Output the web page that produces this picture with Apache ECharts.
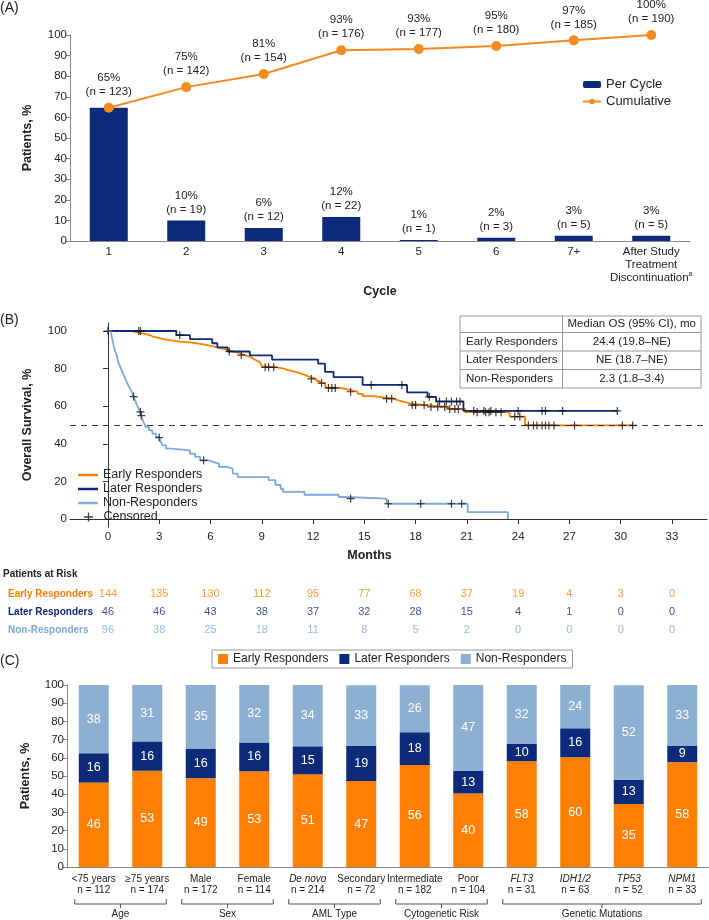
<!DOCTYPE html>
<html>
<head>
<meta charset="UTF-8">
<title>Response timing, survival and subgroups</title>
<style>
  html, body { margin: 0; padding: 0; background: #fff; }
  #chart { width: 709px; height: 920px; }
</style>
<script src="https://cdn.jsdelivr.net/npm/echarts@6/dist/echarts.min.js"></script>
</head>
<body>
<div id="chart"></div>
<script>
// ---------- (A) first response by cycle ----------
var cycles = ['1', '2', '3', '4', '5', '6', '7+', 'After Study Treatment Discontinuation'];
var perCycle = [64.7, 10.0, 6.3, 11.6, 0.5, 1.6, 2.6, 2.6];
var perCyclePct = [65, 10, 6, 12, 1, 2, 3, 3];
var perCycleN = [123, 19, 12, 22, 1, 3, 5, 5];
var cumulative = [64.7, 74.7, 81.1, 92.6, 93.2, 94.7, 97.4, 100];
var cumulativePct = [65, 75, 81, 93, 93, 95, 97, 100];
var cumulativeN = [123, 142, 154, 176, 177, 180, 185, 190];

// ---------- (B) overall survival, [month, %] at each step ----------
var earlyKM = [[0,100],[1.4,99.3],[1.7,98.6],[2.1,97.9],[2.4,97.2],[2.6,96.5],[2.9,95.8],[3.2,95.1],[3.6,94.4],
  [4.2,93.8],[4.9,93.1],[5.4,92.4],[5.9,91.7],[6.2,91.0],[6.5,90.3],[6.9,89.6],[7.2,88.9],[7.4,88.2],[7.7,87.2],
  [8.0,86.3],[8.3,85.3],[8.5,84.3],[8.7,83.3],[8.9,82.3],[9.0,81.3],[9.1,80.7],[9.9,80.0],[10.3,79.0],[10.6,78.2],
  [11.0,77.3],[11.3,76.4],[11.6,75.5],[11.8,74.5],[12.2,73.4],[12.4,72.3],[12.7,71.0],[12.8,69.7],[13.6,68.7],
  [14.1,67.7],[14.6,66.6],[14.9,65.4],[15.5,64.7],[16.1,64.0],[16.7,63.1],[17.0,62.2],[17.4,61.4],[17.7,60.6],
  [18.6,59.6],[19.9,58.5],[20.9,56.8],[23.5,54.5],[24.4,49.8],[30.7,49.8]];
var laterKM = [[0,100],[4.0,97.8],[4.8,95.7],[6.1,93.5],[6.4,91.3],[7.0,89.1],[8.3,87.0],[9.6,84.8],[12.3,82.6],
  [12.7,78.3],[13.2,75.5],[14.9,71.3],[17.5,67.4],[18.7,65.0],[19.2,62.5],[20.8,57.5],[29.8,57.5]];
var nonKM = [[0,100],[0.2,97.9],[0.25,95.8],[0.3,93.8],[0.35,91.7],[0.4,89.6],[0.5,87.5],[0.55,85.4],[0.6,83.3],
  [0.7,81.3],[0.8,79.2],[0.9,77.1],[1.0,75.0],[1.1,72.9],[1.2,70.8],[1.3,69.3],[1.4,67.2],[1.5,65.1],[1.6,62.9],
  [1.7,60.6],[1.8,58.4],[1.9,56.2],[2.0,53.4],[2.1,51.1],[2.2,48.9],[2.4,47.2],[2.6,45.4],[2.8,43.7],[3.0,42.7],
  [3.1,40.8],[3.2,39.2],[3.4,37.4],[3.7,36.5],[4.8,34.7],[5.1,33.0],[5.4,31.2],[5.9,30.3],[6.2,29.4],[6.5,27.8],
  [6.9,26.8],[7.3,24.1],[7.6,22.3],[9.4,20.7],[9.8,18.1],[10.1,16.1],[10.25,14.4],[11.5,12.9],[13.5,11.7],
  [13.9,10.8],[16.3,8.1],[21.05,3.7],[23.4,0]];
var earlyCens = [[1.8,100],[1.9,100],[7.8,87.2],[9.2,80.7],[9.4,80.7],[9.7,80.7],[11.9,74.5],[12.5,72.3],[12.9,69.7],
  [13.1,69.7],[13.3,69.7],[14.2,67.7],[16.3,64.0],[16.6,64.0],[17.8,60.6],[18.0,60.6],[18.5,60.6],[18.9,59.6],
  [19.3,59.6],[19.7,59.6],[20.0,58.5],[20.3,58.5],[20.5,58.5],[21.6,56.8],[22.1,56.8],[22.3,56.8],[22.7,56.8],
  [23.0,56.8],[23.8,54.5],[24.1,54.5],[24.6,49.8],[24.9,49.8],[25.1,49.8],[25.4,49.8],[25.6,49.8],[25.8,49.8],
  [26.1,49.8],[27.3,49.8],[30.1,49.8],[30.7,49.8]];
var laterCens = [[4.2,97.8],[7.1,89.1],[15.4,71.3],[17.2,71.3],[18.8,65.0],[19.4,62.5],[19.8,62.5],[20.1,62.5],
  [20.4,62.5],[20.6,62.5],[21.4,57.5],[22.0,57.5],[22.4,57.5],[24.0,57.5],[25.4,57.5],[25.6,57.5],[26.6,57.5],[29.8,57.5]];
var nonCens = [[0,100],[1.5,65.1],[1.9,57.0],[1.95,55.0],[3.0,43.3],[5.6,31.2],[14.2,10.8],[16.4,8.1],[18.3,8.1],
  [20.1,8.1],[20.7,8.1]];
var monthTicks = [0, 3, 6, 9, 12, 15, 18, 21, 24, 27, 30, 33];
var riskRows = ['Early Responders', 'Later Responders', 'Non-Responders'];
var riskEarly = [144, 135, 130, 112, 95, 77, 68, 37, 19, 4, 3, 0];
var riskLater = [46, 46, 43, 38, 37, 32, 28, 15, 4, 1, 0, 0];
var riskNon = [96, 38, 25, 18, 11, 8, 5, 2, 0, 0, 0, 0];
var medianOS = ['24.4 (19.8–NE)', 'NE (18.7–NE)', '2.3 (1.8–3.4)'];

// ---------- (C) response by subgroup ----------
var subgroups = ['<75 years', '≥75 years', 'Male', 'Female', 'De novo', 'Secondary', 'Intermediate', 'Poor',
  'FLT3', 'IDH1/2', 'TP53', 'NPM1'];
var subgroupN = [112, 174, 172, 114, 214, 72, 182, 104, 31, 63, 52, 33];
var subEarly = [46.4, 52.9, 48.8, 52.6, 50.9, 47.2, 56.0, 40.4, 58.1, 60.3, 34.6, 57.6];
var subLater = [16.1, 16.1, 16.3, 15.8, 15.4, 19.4, 18.1, 12.5, 9.7, 15.9, 13.4, 9.1];
var subNon = [37.5, 31.0, 34.9, 31.6, 33.7, 33.3, 25.8, 47.1, 32.3, 23.8, 51.9, 33.3];
var groups = [
  { label: 'Age', first: 0, last: 1 },
  { label: 'Sex', first: 2, last: 3 },
  { label: 'AML Type', first: 4, last: 5 },
  { label: 'Cytogenetic Risk', first: 6, last: 7 },
  { label: 'Genetic Mutations', first: 8, last: 11 }
];
var italicNames = ['De novo', 'FLT3', 'IDH1/2', 'TP53', 'NPM1'];

var FONT = '"Liberation Sans", Arial, sans-serif';
var TXT = '#222';
var NAVY = '#0B2A7A';
var ORANGE = '#FF7F00';
var LIGHT = '#7BAADB';
var CLIGHT = '#8CAFD2';
var PLUS = 'path://M-1,-0.15L1,-0.15L1,0.15L-1,0.15Z M-0.15,-1L0.15,-1L0.15,1L-0.15,1Z';

var chart = echarts.init(document.getElementById('chart'), null, { renderer: 'canvas' });

function riskSeries(counts, row, color) {
  return {
    type: 'scatter', xAxisIndex: 2, yAxisIndex: 2, silent: true,
    symbolSize: 1, itemStyle: { color: 'transparent' },
    data: monthTicks.map(function (m, i) { return [m, row, counts[i]]; }),
    label: { show: true, position: 'inside', color: color, fontSize: 11, fontFamily: FONT,
      formatter: function (p) { return p.value[2]; } }
  };
}

function cLabel() {
  return { show: true, position: 'inside', color: '#fff', fontSize: 12.5, fontFamily: FONT,
    formatter: function (p) { return Math.round(p.value); } };
}

var allCens = earlyCens.concat(laterCens, nonCens);
var panelTitle = { fontSize: 14, fontWeight: 'normal', color: TXT, fontFamily: FONT };

var option = {
  animation: false,
  textStyle: { fontFamily: FONT, color: TXT },
  title: [
    { text: '(A)', left: 0, top: 1, padding: 0, textStyle: panelTitle },
    { text: '(B)', left: 0, top: 313, padding: 0, textStyle: panelTitle },
    { text: '(C)', left: 0, top: 654, padding: 0, textStyle: panelTitle },
    { text: 'Patients at Risk', left: 3, top: 569, padding: 0, textStyle: { fontSize: 10, fontWeight: 'bold', color: TXT, fontFamily: FONT } }
  ],
  legend: [
    { data: ['Per Cycle', 'Cumulative'], orient: 'vertical', left: 582, top: 78, padding: 0, itemWidth: 18, itemHeight: 7,
      itemGap: 4, textStyle: { fontSize: 13, color: TXT, fontFamily: FONT } },
    { data: ['Early Responders', 'Later Responders', 'Non-Responders'], orient: 'vertical',
      left: 78, top: 468.5, itemWidth: 20, itemHeight: 2.5, itemGap: 1, padding: 0, icon: 'rect',
      textStyle: { fontSize: 12.5, color: TXT, fontFamily: FONT } },
    { data: ['Censored'], left: 84, top: 510.5, itemWidth: 20, itemHeight: 9, padding: 0,
      textStyle: { fontSize: 12.5, color: TXT, fontFamily: FONT } },
    { data: ['Early Responders (C)', 'Later Responders (C)', 'Non-Responders (C)'], left: 212, top: 650,
      itemWidth: 10, itemHeight: 10, itemGap: 11, padding: [3, 6], borderColor: '#999', borderWidth: 1,
      icon: 'rect', formatter: function (n) { return n.replace(' (C)', ''); },
      textStyle: { fontSize: 12, color: TXT, fontFamily: FONT } }
  ],
  grid: [
    { left: 70, right: 19, top: 35, height: 206 },
    { left: 70, right: 2, top: 323, height: 204 },
    { left: 70, right: 2, top: 585, height: 54 },
    { left: 67, right: 0, top: 685, height: 182 }
  ],
  xAxis: [
    { type: 'category', gridIndex: 0, data: cycles,
      axisLine: { lineStyle: { color: '#888' } }, axisTick: { show: false },
      axisLabel: { color: TXT, fontSize: 11.5, margin: 4, lineHeight: 13, interval: 0,
        formatter: function (v) { return v.indexOf('After') === 0 ? 'After Study\nTreatment\nDiscontinuation{sup|a}' : v; },
        rich: { sup: { fontSize: 7, verticalAlign: 'top', padding: [0, 0, 6, 0], color: TXT } } },
      name: 'Cycle', nameLocation: 'middle', nameGap: 29,
      nameTextStyle: { fontWeight: 'bold', fontSize: 12.5, color: TXT } },
    { type: 'value', gridIndex: 1, min: -2.22, max: 35.05,
      axisLine: { lineStyle: { color: '#333' } }, splitLine: { show: false },
      axisTick: { length: 5, customValues: monthTicks, lineStyle: { color: '#333' } },
      axisLabel: { customValues: monthTicks, color: TXT, fontSize: 11.5, margin: 4 },
      name: 'Months', nameLocation: 'middle', nameGap: 22,
      nameTextStyle: { fontWeight: 'bold', fontSize: 12.5, color: TXT, padding: [0, 38, 0, 0] } },
    { type: 'value', gridIndex: 2, min: -2.22, max: 35.05, show: false },
    { type: 'category', gridIndex: 3, data: subgroups,
      axisLine: { lineStyle: { color: '#888' } }, axisTick: { show: false },
      axisLabel: { interval: 0, margin: 6, color: TXT,
        formatter: function (v, i) {
          var s = italicNames.indexOf(v) >= 0 ? 'it' : 'nm';
          return '{' + s + '|' + v + '}\n{nm|n = ' + subgroupN[i] + '}';
        },
        rich: { nm: { fontSize: 10, lineHeight: 11.5, color: TXT }, it: { fontSize: 10, lineHeight: 11.5, fontStyle: 'italic', color: TXT } } } }
  ],
  yAxis: [
    { type: 'value', gridIndex: 0, min: 0, max: 100, interval: 10, splitLine: { show: false },
      axisLine: { show: true, lineStyle: { color: '#888' } }, axisTick: { show: true, length: 4 },
      axisLabel: { color: TXT, fontSize: 11.5, margin: 3 },
      name: 'Patients, %', nameLocation: 'middle', nameGap: 36, nameRotate: 90,
      nameTextStyle: { fontWeight: 'bold', fontSize: 12.5, color: TXT } },
    { type: 'value', gridIndex: 1, min: -4.26, max: 104.26, splitLine: { show: false },
      axisLine: { show: true, lineStyle: { color: '#333' } },
      axisTick: { show: true, length: 5, customValues: [0, 20, 40, 60, 80, 100], lineStyle: { color: '#333' } },
      axisLabel: { customValues: [0, 20, 40, 60, 80, 100], color: TXT, fontSize: 11.5, margin: 3 },
      name: 'Overall Survival, %', nameLocation: 'middle', nameGap: 36, nameRotate: 90,
      nameTextStyle: { fontWeight: 'bold', fontSize: 12.5, color: TXT } },
    { type: 'category', gridIndex: 2, data: riskRows, inverse: true,
      axisLine: { show: false }, axisTick: { show: false },
      axisLabel: { align: 'left', margin: 62,
        formatter: function (v, i) { return '{r' + i + '|' + v + '}'; },
        rich: {
          r0: { color: ORANGE, fontWeight: 'bold', fontSize: 10 },
          r1: { color: NAVY, fontWeight: 'bold', fontSize: 10 },
          r2: { color: LIGHT, fontWeight: 'bold', fontSize: 10 }
        } } },
    { type: 'value', gridIndex: 3, min: 0, max: 100, interval: 10, splitLine: { show: false },
      axisLine: { show: true, lineStyle: { color: '#888' } }, axisTick: { show: true, length: 4 },
      axisLabel: { color: TXT, fontSize: 11.5, margin: 3 },
      name: 'Patients, %', nameLocation: 'middle', nameGap: 35, nameRotate: 90,
      nameTextStyle: { fontWeight: 'bold', fontSize: 12.5, color: TXT } }
  ],
  series: [
    { name: 'Per Cycle', type: 'bar', xAxisIndex: 0, yAxisIndex: 0, data: perCycle, barWidth: 38,
      itemStyle: { color: NAVY },
      label: { show: true, position: 'top', distance: 4, color: TXT, fontSize: 11.5, lineHeight: 14,
        formatter: function (p) { return p.dataIndex === 0 ? '' : perCyclePct[p.dataIndex] + '%\n(n = ' + perCycleN[p.dataIndex] + ')'; } } },
    { name: 'Cumulative', type: 'line', xAxisIndex: 0, yAxisIndex: 0, data: cumulative, z: 5,
      symbol: 'circle', symbolSize: 10, itemStyle: { color: '#F58A1F' }, lineStyle: { color: '#F58A1F', width: 2 },
      label: { show: true, position: 'top', distance: 4, color: TXT, fontSize: 11.5, lineHeight: 14,
        formatter: function (p) { return cumulativePct[p.dataIndex] + '%\n(n = ' + cumulativeN[p.dataIndex] + ')'; } } },

    { name: 'Early Responders', type: 'line', step: 'end', xAxisIndex: 1, yAxisIndex: 1, data: earlyKM,
      symbol: 'none', itemStyle: { color: ORANGE }, lineStyle: { color: ORANGE, width: 1.8 },
      markLine: { silent: true, symbol: ['none', 'none'], label: { show: false },
        lineStyle: { color: '#333', type: [6, 5], width: 1 }, data: [{ yAxis: 50 }] } },
    { name: 'Later Responders', type: 'line', step: 'end', xAxisIndex: 1, yAxisIndex: 1, data: laterKM,
      symbol: 'none', itemStyle: { color: NAVY }, lineStyle: { color: NAVY, width: 1.8 } },
    { name: 'Non-Responders', type: 'line', step: 'end', xAxisIndex: 1, yAxisIndex: 1, data: nonKM,
      symbol: 'none', itemStyle: { color: LIGHT }, lineStyle: { color: LIGHT, width: 1.8 } },
    { name: 'Censored', type: 'scatter', xAxisIndex: 1, yAxisIndex: 1, data: allCens, z: 6,
      symbol: PLUS, symbolSize: 8, symbolKeepAspect: true, itemStyle: { color: '#111' } },

    riskSeries(riskEarly, riskRows[0], ORANGE),
    riskSeries(riskLater, riskRows[1], NAVY),
    riskSeries(riskNon, riskRows[2], LIGHT),

    { name: 'Early Responders (C)', type: 'bar', stack: 'c', xAxisIndex: 3, yAxisIndex: 3, data: subEarly,
      barWidth: 30, itemStyle: { color: ORANGE }, label: cLabel() },
    { name: 'Later Responders (C)', type: 'bar', stack: 'c', xAxisIndex: 3, yAxisIndex: 3, data: subLater,
      barWidth: 30, itemStyle: { color: NAVY }, label: cLabel() },
    { name: 'Non-Responders (C)', type: 'bar', stack: 'c', xAxisIndex: 3, yAxisIndex: 3, data: subNon,
      barWidth: 30, itemStyle: { color: CLIGHT }, label: cLabel() }
  ]
};

chart.setOption(option);

// median OS table and subgroup brackets
var g = [];
var tx = 460, ty = 316, tw = 241, colX = 562.5;
var rowY = [316, 332.5, 351, 369.5, 388];
var tableFont = '11.5px ' + FONT;
g.push({ type: 'rect', shape: { x: tx, y: ty, width: tw, height: rowY[4] - ty },
  style: { fill: '#fff', stroke: '#999', lineWidth: 1 }, z: 50 });
for (var r = 1; r < 4; r++) {
  g.push({ type: 'line', shape: { x1: tx, y1: rowY[r], x2: tx + tw, y2: rowY[r] }, style: { stroke: '#999', lineWidth: 1 }, z: 51 });
}
g.push({ type: 'line', shape: { x1: colX, y1: ty, x2: colX, y2: rowY[4] }, style: { stroke: '#999', lineWidth: 1 }, z: 51 });
g.push({ type: 'text', x: (colX + tx + tw) / 2, y: (rowY[0] + rowY[1]) / 2, z: 52,
  style: { text: 'Median OS (95% CI), mo', fill: TXT, font: tableFont, textAlign: 'center', textVerticalAlign: 'middle' } });
for (var k = 0; k < 3; k++) {
  var cy = (rowY[k + 1] + rowY[k + 2]) / 2;
  g.push({ type: 'text', x: 466, y: cy, z: 52,
    style: { text: riskRows[k], fill: TXT, font: tableFont, textAlign: 'left', textVerticalAlign: 'middle' } });
  g.push({ type: 'text', x: (colX + tx + tw) / 2, y: cy, z: 52,
    style: { text: medianOS[k], fill: TXT, font: tableFont, textAlign: 'center', textVerticalAlign: 'middle' } });
}

groups.forEach(function (grp) {
  var x1 = chart.convertToPixel({ xAxisIndex: 3 }, grp.first) - 19;
  var x2 = chart.convertToPixel({ xAxisIndex: 3 }, grp.last) + 19;
  var xc = (x1 + x2) / 2;
  g.push({ type: 'polyline', shape: { points: [[x1, 899], [x1, 904], [x2, 904], [x2, 899]] },
    style: { stroke: '#555', lineWidth: 1, fill: null } });
  g.push({ type: 'line', shape: { x1: xc, y1: 904, x2: xc, y2: 908 }, style: { stroke: '#555', lineWidth: 1 } });
  g.push({ type: 'text', x: xc, y: 914, style: { text: grp.label, fill: TXT, font: '10px ' + FONT,
    textAlign: 'center', textVerticalAlign: 'middle' } });
});

chart.setOption({ graphic: g });
</script>
</body>
</html>
